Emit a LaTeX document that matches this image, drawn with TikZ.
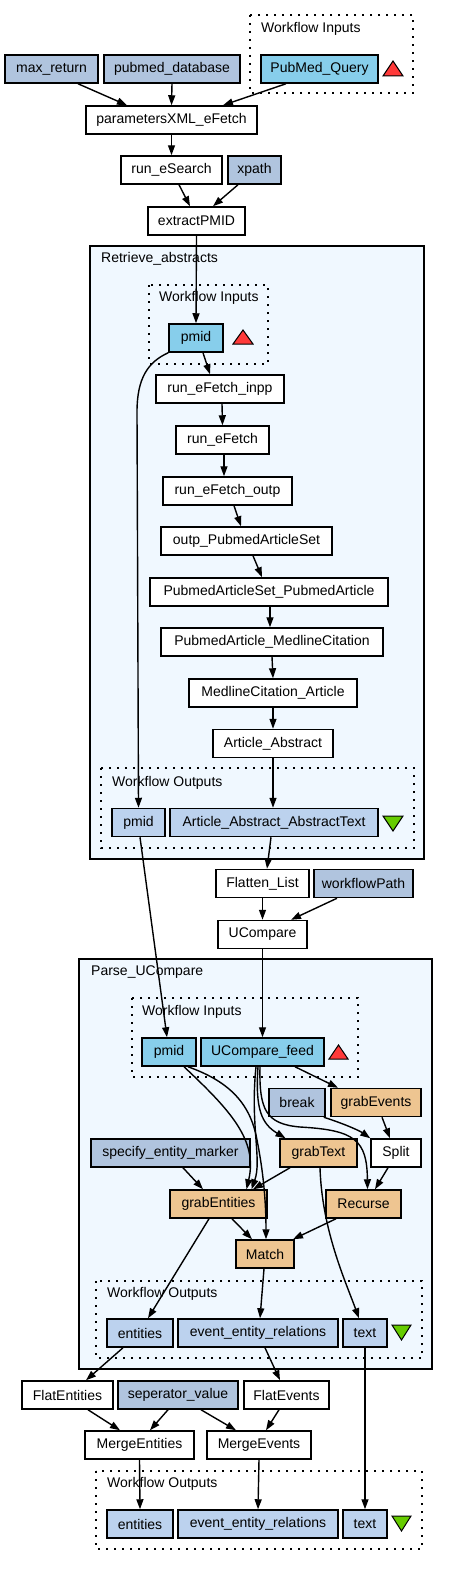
\documentclass[tikz,border=0pt]{standalone}
\usepackage{fontspec}
\setmainfont{Liberation Sans}
\usetikzlibrary{arrows.meta}
\usepackage{xcolor}
\definecolor{constfill}{HTML}{B0C4DE}
\definecolor{infill}{HTML}{87CEEB}
\definecolor{outfill}{HTML}{BCD2EE}
\definecolor{procfill}{HTML}{EEC591}
\definecolor{clusterfill}{HTML}{F0F8FF}
\definecolor{trired}{HTML}{FF3A3A}
\definecolor{trigreen}{HTML}{66CC00}

\begin{document}
\begin{tikzpicture}[
    x=1pt,y=-1pt,
    box/.style={draw=black,line width=1.5pt,minimum height=28pt,inner sep=0pt,fill=white,font=\fontsize{14}{16}\selectfont},
    constbox/.style={box,fill=constfill},
    inbox/.style={box,fill=infill},
    outbox/.style={box,fill=outfill},
    procbox/.style={box,fill=procfill},
    cluster/.style={draw=black,line width=1.5pt,fill=clusterfill},
    portgroup/.style={line width=1.6pt,dash pattern=on 1.6pt off 6.4pt},
    grouplabel/.style={anchor=west,inner sep=0pt,font=\fontsize{14}{16}\selectfont},
    intri/.style={draw=black,line width=1pt,fill=trired},
    outtri/.style={draw=black,line width=1pt,fill=trigreen},
    arrow/.style={-{Triangle[length=10pt,width=7pt]},line width=1.4pt}
  ]
    \useasboundingbox (0,0) rectangle (448,1576);

    % groups
    \draw[portgroup] (250,15) rectangle (413,93);
    \node[grouplabel] (topin) at (261,29) {Workflow Inputs};
    \draw[cluster] (90,246) rectangle (424,859);
    \node[grouplabel] (retrlbl) at (101,259) {Retrieve\_abstracts};
    \draw[portgroup] (149,285) rectangle (268,364);
    \node[grouplabel] (retrin) at (159,298) {Workflow Inputs};
    \draw[portgroup] (101,768) rectangle (414,848);
    \node[grouplabel] (retrout) at (112,783) {Workflow Outputs};
    \draw[cluster] (79,959) rectangle (432,1369);
    \node[grouplabel] (parselbl) at (91,972) {Parse\_UCompare};
    \draw[portgroup] (132,998) rectangle (358,1077);
    \node[grouplabel] (parsein) at (142,1012) {Workflow Inputs};
    \draw[portgroup] (96,1281) rectangle (422,1358);
    \node[grouplabel] (parseout) at (107,1294) {Workflow Outputs};
    \draw[portgroup] (96,1471) rectangle (422,1549);
    \node[grouplabel] (finout) at (107,1484) {Workflow Outputs};

    % top
    \node[constbox,minimum width=93pt] (maxret) at (51.5,69) {max\_return};
    \node[constbox,minimum width=136pt] (pubdb) at (172,69) {pubmed\_database};
    \node[inbox,minimum width=117pt] (pmquery) at (319.5,69) {PubMed\_Query};
    \draw[intri] (383,76) -- (403,76) -- (393,61) -- cycle;
    \node[box,minimum width=171pt] (params) at (171.5,120) {parametersXML\_eFetch};
    \node[box,minimum width=101pt] (esearch) at (171.5,170) {run\_eSearch};
    \node[constbox,minimum width=53pt] (xpath) at (254.5,170) {xpath};
    \node[box,minimum width=97pt] (extract) at (196.5,221) {extractPMID};

    % Retrieve_abstracts
    \node[inbox,minimum width=54pt] (pmidr) at (196,338) {pmid};
    \draw[intri] (233,344) -- (253,344) -- (243,330) -- cycle;
    \node[box,minimum width=128pt] (inpp) at (220,389) {run\_eFetch\_inpp};
    \node[box,minimum width=93pt] (efetch) at (222.5,440) {run\_eFetch};
    \node[box,minimum width=129pt] (outp) at (227.5,491) {run\_eFetch\_outp};
    \node[box,minimum width=171pt] (artset) at (246.5,541) {outp\_PubmedArticleSet};
    \node[box,minimum width=238pt] (setart) at (269,592) {PubmedArticleSet\_PubmedArticle};
    \node[box,minimum width=222pt] (medline) at (272,642) {PubmedArticle\_MedlineCitation};
    \node[box,minimum width=168pt] (medart) at (273,693) {MedlineCitation\_Article};
    \node[box,minimum width=120pt] (abstract) at (273,743.5) {Article\_Abstract};
    \node[outbox,minimum width=53pt] (pmidro) at (138.5,822.5) {pmid};
    \node[outbox,minimum width=208pt] (abstext) at (274,822.5) {Article\_Abstract\_AbstractText};
    \draw[outtri] (383,816) -- (403,816) -- (393,831) -- cycle;

    % middle
    \node[box,minimum width=93pt] (flatten) at (262.5,883.5) {Flatten\_List};
    \node[constbox,minimum width=99pt] (wfpath) at (363.5,883.5) {workflowPath};
    \node[box,minimum width=89pt] (ucompare) at (262.5,934.5) {UCompare};

    % Parse_UCompare
    \node[inbox,minimum width=54pt] (pmidp) at (169,1052) {pmid};
    \node[inbox,minimum width=123pt] (feed) at (262.5,1052) {UCompare\_feed};
    \draw[intri] (329,1059) -- (348,1059) -- (338.5,1045) -- cycle;
    \node[constbox,minimum width=56pt] (brk) at (297,1102.5) {break};
    \node[procbox,minimum width=90pt] (grabev) at (376,1102.5) {grabEvents};
    \node[constbox,minimum width=159pt] (marker) at (170.5,1153) {specify\_entity\_marker};
    \node[procbox,minimum width=77pt] (grabtext) at (318.5,1153) {grabText};
    \node[box,minimum width=50pt] (split) at (396,1153) {Split};
    \node[procbox,minimum width=97pt] (grabent) at (218.5,1204) {grabEntities};
    \node[procbox,minimum width=75pt] (recurse) at (363.5,1204) {Recurse};
    \node[procbox,minimum width=58pt] (match) at (265,1254) {Match};
    \node[outbox,minimum width=66pt] (entout) at (140,1333) {entities};
    \node[outbox,minimum width=160pt] (evrelout) at (258,1333) {event\_entity\_relations};
    \node[outbox,minimum width=44pt] (textout) at (365,1333) {text};
    \draw[outtri] (392,1325) -- (411,1325) -- (401.5,1340) -- cycle;

    % bottom
    \node[box,minimum width=91pt] (flatent) at (67.5,1395) {FlatEntities};
    \node[constbox,minimum width=120pt] (sepval) at (178,1395) {seperator\_value};
    \node[box,minimum width=85pt] (flatev) at (286.5,1395) {FlatEvents};
    \node[box,minimum width=109pt] (mergeent) at (139.5,1445) {MergeEntities};
    \node[box,minimum width=104pt] (mergeev) at (259,1445) {MergeEvents};
    \node[outbox,minimum width=66pt] (entfin) at (140,1524) {entities};
    \node[outbox,minimum width=160pt] (evrelfin) at (258,1524) {event\_entity\_relations};
    \node[outbox,minimum width=44pt] (textfin) at (365,1524) {text};
    \draw[outtri] (392,1516) -- (411,1516) -- (401.5,1531) -- cycle;

    % links
    \draw[arrow] ([xshift=26.5pt]maxret.south) -- ([xshift=-44.5pt]params.north);
    \draw[arrow] (pubdb.south) -- (params.north);
    \draw[arrow] ([xshift=-33.5pt]pmquery.south) -- ([xshift=51.5pt]params.north);
    \draw[arrow] (params.south) -- (esearch.north);
    \draw[arrow] ([xshift=7.5pt]esearch.south) -- ([xshift=-6.5pt]extract.north);
    \draw[arrow] ([xshift=-16.5pt]xpath.south) -- ([xshift=16.5pt]extract.north);
    \draw[arrow] (extract.south) -- (pmidr.north);
    \draw[arrow] ([xshift=7pt]pmidr.south) -- ([xshift=-10pt]inpp.north);
    \draw[arrow] (pmidr.south west) .. controls (148,362) and (137,378) .. (137,412) -- (pmidro.north);
    \draw[arrow] ([xshift=2pt]inpp.south) -- (efetch.north);
    \draw[arrow] ([xshift=1.5pt]efetch.south) -- ([xshift=-3.5pt]outp.north);
    \draw[arrow] ([xshift=6.5pt]outp.south) -- ([xshift=-5.5pt]artset.north);
    \draw[arrow] ([xshift=6.5pt]artset.south) -- ([xshift=-7pt]setart.north);
    \draw[arrow] ([xshift=1pt]setart.south) -- ([xshift=-2pt]medline.north);
    \draw[arrow] (medline.south) -- (medart.north);
    \draw[arrow] (medart.south) -- (abstract.north);
    \draw[arrow] (abstract.south) -- ([xshift=-1pt]abstext.north);
    \draw[arrow] ([xshift=-3pt]abstext.south) -- ([xshift=4.5pt]flatten.north);
    \draw[arrow] ([xshift=1.5pt]pmidro.south) -- ([xshift=-2pt]pmidp.north);
    \draw[arrow] (flatten.south) -- (ucompare.north);
    \draw[arrow] ([xshift=-26.5pt]wfpath.south) -- ([xshift=28.5pt]ucompare.north);
    \draw[arrow] (ucompare.south) -- (feed.north);
    \draw[arrow] ([xshift=32.5pt]feed.south) -- ([xshift=-38pt]grabev.north);
    \draw[arrow] ([xshift=6pt]grabev.south) -- ([xshift=-6pt]split.north);
    \draw[arrow] ([xshift=-8pt]split.south) -- ([xshift=11.5pt]recurse.north);
    \draw[arrow] ([xshift=-2pt]brk.south east) .. controls (345,1124) and (360,1131) .. (split.north west);
    \draw[arrow] ([xshift=-2.5pt]feed.south) .. controls (259,1110) and (266,1124) .. (300,1127) .. controls (355,1130) and (367,1140) .. ([xshift=4pt]recurse.north);
    \draw[arrow] ([xshift=-4.5pt]feed.south) .. controls (255,1110) and (262,1124) .. ([xshift=-33pt]grabtext.north);
    \draw[arrow] ([xshift=-6.5pt]feed.south) .. controls (250,1125) and (262,1160) .. ([xshift=33pt]grabent.north);
    \draw[arrow] ([xshift=15pt]pmidp.south) .. controls (230,1110) and (258,1140) .. ([xshift=28pt]grabent.north);
    \draw[arrow] ([xshift=19pt]pmidp.south) .. controls (225,1080) and (250,1100) .. (257,1140) .. controls (263,1170) and (266,1200) .. ([xshift=1pt]match.north);
    \draw[arrow] ([xshift=12.5pt]marker.south) -- ([xshift=-15.5pt]grabent.north);
    \draw[arrow] ([xshift=-28.5pt]grabtext.south) -- ([xshift=34.5pt]grabent.north);
    \draw[arrow] ([xshift=1.5pt]grabtext.south) .. controls (322,1230) and (345,1280) .. ([xshift=-6pt]textout.north);
    \draw[arrow] ([xshift=13.5pt]grabent.south) -- ([xshift=-13pt]match.north);
    \draw[arrow] ([xshift=-9.5pt]grabent.south) -- ([xshift=8pt]entout.north);
    \draw[arrow] ([xshift=-27.5pt]recurse.south) -- ([xshift=28pt]match.north);
    \draw[arrow] ([xshift=-1pt]match.south) -- ([xshift=2pt]evrelout.north);
    \draw[arrow] (textout.south) -- (textfin.north);
    \draw[arrow] ([xshift=-17pt]entout.south) -- ([xshift=18.5pt]flatent.north);
    \draw[arrow] ([xshift=7pt]evrelout.south) -- ([xshift=-6.5pt]flatev.north);
    \draw[arrow] ([xshift=20.5pt]flatent.south) -- ([xshift=-19.5pt]mergeent.north);
    \draw[arrow] ([xshift=-10pt]sepval.south) -- ([xshift=10.5pt]mergeent.north);
    \draw[arrow] ([xshift=23pt]sepval.south) -- ([xshift=-23pt]mergeev.north);
    \draw[arrow] ([xshift=-7.5pt]flatev.south) -- ([xshift=7pt]mergeev.north);
    \draw[arrow] (mergeent.south) -- (entfin.north);
    \draw[arrow] (mergeev.south) -- (evrelfin.north);
  \end{tikzpicture}
\end{document}
